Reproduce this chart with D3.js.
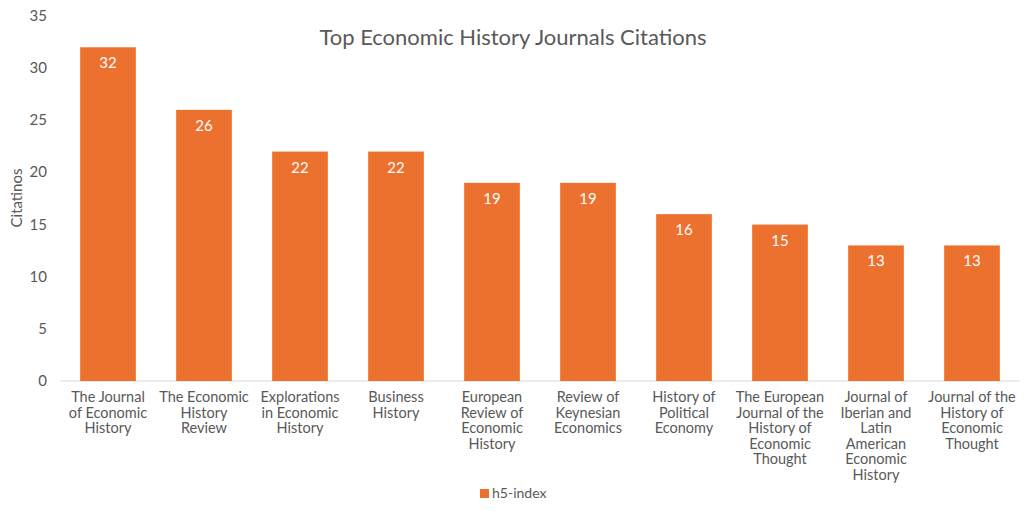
<!DOCTYPE html>
<html><head><meta charset="utf-8">
<script src="https://cdn.jsdelivr.net/npm/d3@7"></script>
<style>
body{margin:0;background:#fff;font-family:Lato,"Open Sans",sans-serif;}
text{fill:#595959;}
</style></head><body>
<svg id="chart" width="1024" height="511"></svg>
<script>
var categories = [
  ['The Journal', 'of Economic', 'History'],
  ['The Economic', 'History', 'Review'],
  ['Explorations', 'in Economic', 'History'],
  ['Business', 'History'],
  ['European', 'Review of', 'Economic', 'History'],
  ['Review of', 'Keynesian', 'Economics'],
  ['History of', 'Political', 'Economy'],
  ['The European', 'Journal of the', 'History of', 'Economic', 'Thought'],
  ['Journal of', 'Iberian and', 'Latin', 'American', 'Economic', 'History'],
  ['Journal of the', 'History of', 'Economic', 'Thought']
];
var values = [32, 26, 22, 22, 19, 19, 16, 15, 13, 13];
var yTicks = [0, 5, 10, 15, 20, 25, 30, 35];
var barColor = '#ed712e';

var svg = d3.select('#chart');
var x = d3.scaleBand().domain(d3.range(values.length)).range([60, 1020]).paddingInner(0.42).paddingOuter(0.21);
var y = d3.scaleLinear().domain([0, 35]).range([381, 16]);

// y tick labels
svg.append('g').selectAll('text').data(yTicks).join('text')
  .attr('x', 47).attr('y', function(d) { return y(d) + 5; })
  .attr('text-anchor', 'end').style('font-size', '15px')
  .text(function(d) { return d; });

// baseline
svg.append('line').attr('x1', 60).attr('x2', 1020).attr('y1', y(0)).attr('y2', y(0))
  .attr('stroke', '#d9d9d9').attr('stroke-width', 1);

svg.append('g').selectAll('rect').data(values).join('rect')
  .attr('x', function(d, i) { return x(i); })
  .attr('width', x.bandwidth())
  .attr('y', function(d) { return y(d); })
  .attr('height', function(d) { return y(0) - y(d); })
  .attr('fill', barColor);

svg.append('g').selectAll('text').data(values).join('text')
  .attr('x', function(d, i) { return x(i) + x.bandwidth() / 2; })
  .attr('y', function(d) { return y(d) + 21; })
  .attr('text-anchor', 'middle').style('font-size', '15px').style('fill', '#fff')
  .text(function(d) { return d; });

// category labels
var cat = svg.append('g').selectAll('text').data(categories).join('text')
  .attr('text-anchor', 'middle').style('font-size', '14.5px')
  .attr('x', function(d, i) { return x(i) + x.bandwidth() / 2; })
  .attr('y', 402);
cat.each(function(lines, i) {
  var t = d3.select(this);
  lines.forEach(function(l, j) {
    t.append('tspan').attr('x', x(i) + x.bandwidth() / 2).attr('y', 402 + j * 15.5).text(l);
  });
});

svg.append('text').attr('x', 513).attr('y', 45).attr('text-anchor', 'middle')
  .style('font-size', '22px').text('Top Economic History Journals Citations');

svg.append('text').attr('transform', 'translate(22,198) rotate(-90)')
  .attr('text-anchor', 'middle').style('font-size', '15px').text('Citatinos');

svg.append('rect').attr('x', 480).attr('y', 489).attr('width', 9).attr('height', 9).attr('fill', barColor);
svg.append('text').attr('x', 492).attr('y', 498).style('font-size', '14px').text('h5-index');
</script>
</body></html>
